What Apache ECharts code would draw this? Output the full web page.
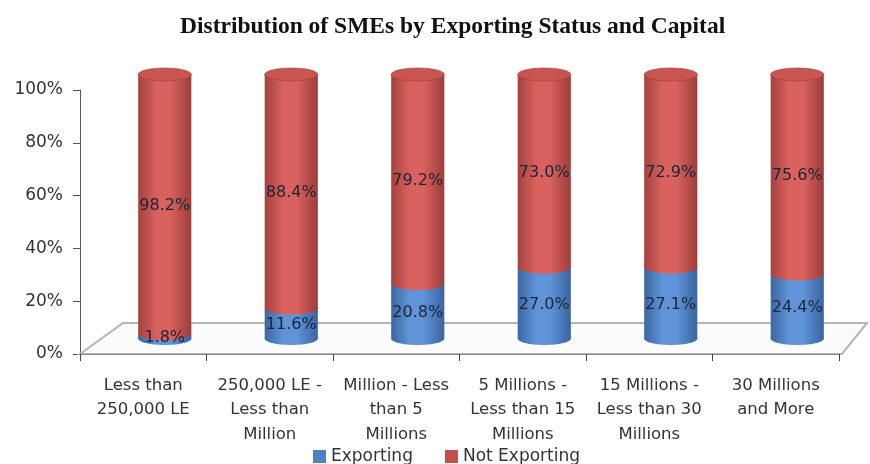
<!DOCTYPE html>
<html>
<head>
<meta charset="utf-8">
<script src="https://cdn.jsdelivr.net/npm/echarts@6/dist/echarts.min.js"></script>
<style>
  html, body { margin: 0; padding: 0; background: #fff; }
  #chart { width: 870px; height: 464px; }
</style>
</head>
<body>
<div id="chart"></div>
<script>
// Capital brackets and share of SMEs (percent) in each exporting status
const categories = [
  'Less than\n250,000 LE',
  '250,000 LE -\nLess than\nMillion',
  'Million - Less\nthan 5\nMillions',
  '5 Millions -\nLess than 15\nMillions',
  '15 Millions -\nLess than 30\nMillions',
  '30 Millions\nand More'
];
const exporting = [1.8, 11.6, 20.8, 27.0, 27.1, 24.4];
const notExporting = [98.2, 88.4, 79.2, 73.0, 72.9, 75.6];
const yTicks = [0, 20, 40, 60, 80, 100];

// 3D look: depth of the floor and cylinder proportions
const DEPTH_X = 43, DEPTH_Y = 31;
const CYL_RATIO = 0.42, CYL_RY = 6.5;

const BLUE = '#4F81BD', RED = '#C0504D';
const shades = {
  blue: { edgeL: '#3b67a2', mid: '#5f95d8', edgeR: '#3a64a0', top: '#6c9bd6' },
  red:  { edgeL: '#a4413e', mid: '#d9625e', edgeR: '#9d3d3a', top: '#c95551' }
};
const SANS = 'DejaVu Sans';

function hGrad(s) {
  return new echarts.graphic.LinearGradient(0, 0, 1, 0, [
    { offset: 0, color: s.edgeL },
    { offset: 0.35, color: s.mid },
    { offset: 0.6, color: s.mid },
    { offset: 1, color: s.edgeR }
  ]);
}

// geometry of one stacked cylinder segment, pushed back to mid-depth
function segment(api, i, base, v) {
  const pb = api.coord([i, base]);
  const pt = api.coord([i, base + v]);
  const w = api.size([1, 0])[0] * CYL_RATIO;
  return {
    cx: pb[0] + DEPTH_X / 2,
    yb: pb[1] - DEPTH_Y / 2,
    yt: pt[1] - DEPTH_Y / 2,
    w: w
  };
}

function cylinderItem(baseArr, valArr, s, withTop) {
  return function (params, api) {
    const i = api.value(0);
    const g = segment(api, i, baseArr ? baseArr[i] : 0, valArr[i]);
    const rx = g.w / 2;
    const children = [
      { type: 'ellipse', shape: { cx: g.cx, cy: g.yb, rx: rx, ry: CYL_RY }, style: { fill: hGrad(s) } },
      { type: 'rect', shape: { x: g.cx - rx, y: g.yt, width: g.w, height: g.yb - g.yt }, style: { fill: hGrad(s) } }
    ];
    if (withTop) {
      children.push({
        type: 'ellipse', shape: { cx: g.cx, cy: g.yt, rx: rx, ry: CYL_RY },
        style: { fill: s.top, stroke: s.edgeR, lineWidth: 0.6 }
      });
    }
    return { type: 'group', children: children };
  };
}

function labelItem(baseArr, valArr) {
  return function (params, api) {
    const i = api.value(0);
    const v = valArr[i];
    const g = segment(api, i, baseArr ? baseArr[i] : 0, v);
    return {
      type: 'text',
      style: {
        text: v.toFixed(1) + '%',
        x: g.cx, y: (g.yt + g.yb) / 2 + 2,
        align: 'center', verticalAlign: 'middle',
        font: '16px "' + SANS + '"', fill: '#1c2438'
      }
    };
  };
}

const chart = echarts.init(document.getElementById('chart'), null, { renderer: 'canvas' });

chart.setOption({
  backgroundColor: '#ffffff',
  animation: false,
  title: {
    text: 'Distribution of SMEs by Exporting Status and Capital',
    left: 175, top: 10,
    textStyle: { fontFamily: 'Liberation Serif', fontWeight: 'bold', fontSize: 23.5, color: '#111' }
  },
  legend: {
    left: 308, top: 443,
    itemWidth: 13, itemHeight: 13, itemGap: 32,
    icon: 'rect',
    textStyle: { fontFamily: SANS, fontSize: 17, color: '#333' },
    data: ['Exporting', 'Not Exporting']
  },
  grid: { left: 80, right: 31, top: 90, bottom: 110 },
  xAxis: {
    type: 'category',
    data: categories,
    axisLine: { lineStyle: { color: '#888', width: 1 } },
    axisTick: { show: true, length: 7, lineStyle: { color: '#444' } },
    axisLabel: {
      interval: 0, margin: 19,
      fontFamily: SANS, fontSize: 16.5, color: '#333', lineHeight: 24.5
    },
    z: 5
  },
  yAxis: {
    type: 'value',
    min: yTicks[0], max: yTicks[yTicks.length - 1], interval: 20,
    axisLine: { show: true, lineStyle: { color: '#555' } },
    axisTick: { show: true, length: 7, lineStyle: { color: '#555' } },
    splitLine: { show: false },
    axisLabel: {
      formatter: '{value}%', margin: 17,
      fontFamily: SANS, fontSize: 17, color: '#333'
    }
  },
  series: [
    {
      // floor of the 3D plot area
      type: 'custom',
      name: 'floor',
      silent: true,
      z: 1,
      data: [[0]],
      renderItem: function (params, api) {
        const cs = params.coordSys;
        const yb = cs.y + cs.height;
        const x0 = cs.x, x1 = cs.x + cs.width;
        return {
          type: 'polygon',
          shape: { points: [[x0, yb], [x0 + DEPTH_X, yb - DEPTH_Y], [x1 + DEPTH_X - 15, yb - DEPTH_Y], [x1 + 3, yb]] },
          style: { fill: '#fbfbfb', stroke: '#b5b5b5', lineWidth: 2 }
        };
      }
    },
    {
      type: 'custom',
      name: 'Exporting',
      itemStyle: { color: BLUE },
      z: 3,
      data: exporting.map((v, i) => [i, v]),
      renderItem: cylinderItem(null, exporting, shades.blue, false)
    },
    {
      type: 'custom',
      name: 'Not Exporting',
      itemStyle: { color: RED },
      z: 4,
      data: notExporting.map((v, i) => [i, v]),
      renderItem: cylinderItem(exporting, notExporting, shades.red, true)
    },
    {
      type: 'custom',
      name: 'Exporting labels',
      silent: true,
      z: 10,
      data: exporting.map((v, i) => [i, v]),
      renderItem: labelItem(null, exporting)
    },
    {
      type: 'custom',
      name: 'Not Exporting labels',
      silent: true,
      z: 10,
      data: notExporting.map((v, i) => [i, v]),
      renderItem: labelItem(exporting, notExporting)
    }
  ]
});
</script>
</body>
</html>
